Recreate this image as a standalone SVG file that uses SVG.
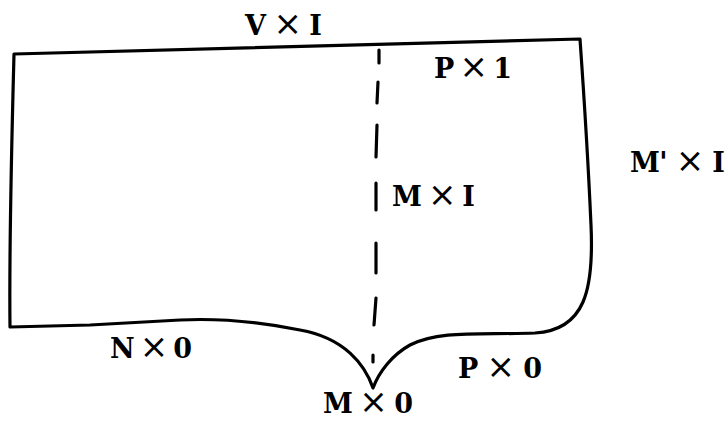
<svg xmlns="http://www.w3.org/2000/svg" width="728" height="423" viewBox="0 0 728 423">
<style>
.o{fill:none;stroke:#000;stroke-width:3.2;stroke-linejoin:round;stroke-linecap:round}
.d{stroke:#000;stroke-width:3.2;stroke-linecap:round}
.t{font-family:"DejaVu Serif","Liberation Serif",serif;font-weight:bold;font-size:27px;fill:#000}
.x{font-family:"DejaVu Sans","Liberation Sans",sans-serif;font-weight:normal;font-size:34px}
</style>
<rect width="728" height="423" fill="#fff"/>
<g id="outline">
<path class="o" d="M14,54 L580,39 C585,110 589,180 591,225 C594,290 585,330 535,333 C480,335 440,330 410,345 C392,355 379,372 373,388 C365,365 345,338 300,330 C260,322 220,318 180,320 L90,325 L10,327 C9,240 12,130 14,54 Z"/>
</g>
<g id="dashed-line">
<line class="d" x1="379" y1="50" x2="379" y2="63"/>
<line class="d" x1="378" y1="82" x2="377" y2="103"/>
<line class="d" x1="377" y1="125" x2="376" y2="157"/>
<line class="d" x1="376" y1="183" x2="376" y2="210"/>
<line class="d" x1="376" y1="243" x2="376" y2="273"/>
<line class="d" x1="376" y1="298" x2="374" y2="325"/>
<line class="d" x1="373" y1="355" x2="373" y2="362"/>
</g>
<g id="labels">
<text class="t" x="245" y="35" textLength="77" lengthAdjust="spacing">V <tspan class="x">×</tspan> I</text>
<text class="t" x="434" y="78" textLength="78" lengthAdjust="spacing">P <tspan class="x">×</tspan> 1</text>
<text class="t" x="392" y="206" textLength="83" lengthAdjust="spacing">M <tspan class="x">×</tspan> I</text>
<text class="t" x="630" y="172" textLength="95" lengthAdjust="spacing">M' <tspan class="x">×</tspan> I</text>
<text class="t" x="110" y="358" textLength="82" lengthAdjust="spacing">N <tspan class="x">×</tspan> 0</text>
<text class="t" x="458" y="378" textLength="84" lengthAdjust="spacing">P <tspan class="x">×</tspan> 0</text>
<text class="t" x="323" y="413" textLength="90" lengthAdjust="spacing">M <tspan class="x">×</tspan> 0</text>
</g>
</svg>
